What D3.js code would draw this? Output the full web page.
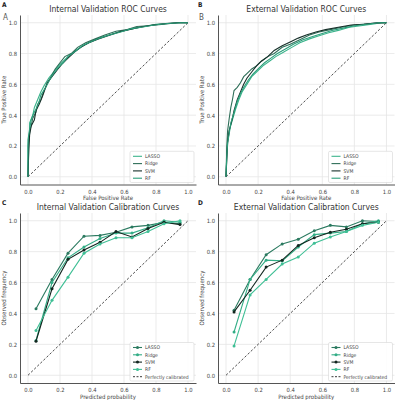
<!DOCTYPE html>
<html>
<head>
<meta charset="utf-8">
<script src="https://cdn.jsdelivr.net/npm/d3@7"></script>
<style>
  body { margin:0; background:#fff; }
  text { font-family: 'DejaVu Sans Condensed', 'Liberation Sans', sans-serif; }
</style>
</head>
<body>
<svg id="drawing_region" width="396" height="400"></svg>
<script>
// モデル名
var models = ['LASSO', 'Ridge', 'SVM', 'RF'];
var ticks = [0, 0.2, 0.4, 0.6, 0.8, 1.0];

// 内部検証 ROC (FPR / TPR)
var intFpr = {
  LASSO: [0,0,0.01,0.01,0.03,0.04,0.06,0.08,0.10,0.13,0.16,0.19,0.22,0.26,0.30,0.35,0.40,0.46,0.52,0.58,0.65,0.72,0.80,0.88,0.95,1],
  Ridge: [0,0.005,0.01,0.02,0.03,0.05,0.06,0.08,0.10,0.12,0.15,0.17,0.20,0.23,0.27,0.31,0.36,0.42,0.48,0.55,0.62,0.68,0.75,0.85,0.93,1],
  SVM:   [0,0.005,0.01,0.02,0.04,0.05,0.07,0.09,0.10,0.12,0.15,0.18,0.21,0.25,0.29,0.33,0.38,0.44,0.50,0.57,0.63,0.70,0.78,0.86,0.94,1],
  RF:    [0,0,0.01,0.02,0.03,0.05,0.07,0.08,0.11,0.13,0.16,0.19,0.22,0.25,0.29,0.34,0.39,0.45,0.51,0.58,0.64,0.71,0.79,0.87,0.95,1]
};
var intTpr = {
  LASSO: [0,0.20,0.29,0.35,0.40,0.45,0.50,0.55,0.59,0.64,0.68,0.72,0.75,0.79,0.82,0.855,0.88,0.905,0.925,0.945,0.96,0.975,0.99,0.995,1,1],
  Ridge: [0,0.22,0.30,0.33,0.38,0.42,0.47,0.50,0.56,0.60,0.66,0.70,0.74,0.78,0.80,0.84,0.87,0.895,0.92,0.945,0.955,0.975,0.98,0.99,1,1],
  SVM:   [0,0.18,0.27,0.33,0.37,0.43,0.47,0.52,0.55,0.61,0.65,0.69,0.73,0.77,0.81,0.84,0.87,0.895,0.915,0.94,0.955,0.97,0.985,0.995,1,1],
  RF:    [0,0.24,0.31,0.37,0.40,0.44,0.49,0.53,0.58,0.62,0.67,0.71,0.74,0.78,0.81,0.85,0.875,0.90,0.92,0.94,0.96,0.97,0.985,0.995,1,1]
};

// 外部検証 ROC
var extFpr = {
  LASSO: [0,0.005,0.01,0.02,0.04,0.06,0.08,0.10,0.13,0.16,0.19,0.23,0.27,0.31,0.36,0.41,0.46,0.52,0.58,0.64,0.70,0.77,0.84,0.91,0.97,1],
  Ridge: [0,0.005,0.01,0.02,0.03,0.04,0.05,0.07,0.09,0.11,0.13,0.16,0.19,0.22,0.26,0.30,0.35,0.40,0.46,0.52,0.58,0.65,0.72,0.80,0.90,1],
  SVM:   [0,0.005,0.01,0.02,0.04,0.05,0.07,0.09,0.11,0.13,0.16,0.19,0.22,0.26,0.30,0.35,0.40,0.45,0.50,0.56,0.62,0.70,0.78,0.86,0.94,1],
  RF:    [0,0.005,0.01,0.02,0.03,0.05,0.07,0.09,0.11,0.14,0.17,0.20,0.24,0.28,0.32,0.37,0.42,0.48,0.54,0.60,0.66,0.73,0.80,0.88,0.95,1]
};
var extTpr = {
  LASSO: [0,0.15,0.24,0.30,0.37,0.44,0.50,0.55,0.60,0.65,0.68,0.72,0.75,0.78,0.81,0.84,0.87,0.895,0.915,0.935,0.95,0.97,0.98,0.99,1,1],
  Ridge: [0,0.20,0.30,0.38,0.45,0.50,0.56,0.58,0.61,0.65,0.67,0.70,0.72,0.75,0.78,0.80,0.84,0.86,0.89,0.92,0.94,0.955,0.97,0.985,0.995,1],
  SVM:   [0,0.12,0.22,0.30,0.38,0.43,0.50,0.55,0.60,0.64,0.68,0.72,0.75,0.78,0.82,0.85,0.875,0.90,0.92,0.94,0.955,0.97,0.985,0.99,1,1],
  RF:    [0,0.14,0.22,0.28,0.35,0.42,0.49,0.54,0.58,0.63,0.67,0.70,0.74,0.77,0.80,0.83,0.86,0.89,0.91,0.93,0.95,0.965,0.98,0.99,1,1]
};

// キャリブレーション (予測確率のビン中心と観測頻度)
var bins = [0.05,0.15,0.25,0.35,0.45,0.55,0.65,0.75,0.85,0.95];
var intCal = {
  LASSO: [0.43,0.62,0.79,0.90,0.905,0.925,0.96,0.97,0.99,0.98],
  Ridge: [0.225,0.60,0.76,0.83,0.885,0.92,0.92,0.955,1.0,0.99],
  SVM:   [0.22,0.56,0.75,0.81,0.86,0.93,0.895,0.95,0.99,0.975],
  RF:    [0.29,0.485,0.635,0.79,0.85,0.89,0.89,0.93,0.98,1.0]
};
var extCal = {
  LASSO: [0.42,0.62,0.78,0.85,0.88,0.935,0.97,0.96,1.0,0.995],
  Ridge: [0.28,0.62,0.745,0.74,0.83,0.91,0.92,0.93,0.98,1.0],
  SVM:   [0.41,0.55,0.70,0.745,0.84,0.89,0.925,0.945,0.98,0.99],
  RF:    [0.19,0.52,0.62,0.72,0.765,0.855,0.895,0.93,0.97,0.99]
};

var rocColors = {LASSO:'#3cb48c', Ridge:'#2e6e58', SVM:'#17302a', RF:'#2a9e7a'};
var calColors = {LASSO:'#2b7a60', Ridge:'#33ad86', SVM:'#12261f', RF:'#3fbf95'};

var svg = d3.select('#drawing_region');

function panel(opt){
  var x = d3.scaleLinear().domain([-0.05, 1.05]).range([opt.left, opt.right]);
  var y = d3.scaleLinear().domain([-0.05, 1.05]).range([opt.bottom, opt.top]);
  var g = svg.append('g');

  // グリッド
  g.selectAll('.gx').data(ticks).enter().append('line')
    .attr('x1', d => x(d)).attr('x2', d => x(d))
    .attr('y1', opt.top).attr('y2', opt.bottom)
    .attr('stroke', '#e6e6e6').attr('stroke-width', 0.8);
  g.selectAll('.gy').data(ticks).enter().append('line')
    .attr('y1', d => y(d)).attr('y2', d => y(d))
    .attr('x1', opt.left).attr('x2', opt.right)
    .attr('stroke', '#e6e6e6').attr('stroke-width', 0.8);

  var xaxis = g.append('g').attr('transform', `translate(0,${opt.bottom})`)
    .call(d3.axisBottom(x).tickValues(ticks).tickFormat(d3.format('.1f')).tickSize(0).tickPadding(5));
  var yaxis = g.append('g').attr('transform', `translate(${opt.left},0)`)
    .call(d3.axisLeft(y).tickValues(ticks).tickFormat(d3.format('.1f')).tickSize(0).tickPadding(3));
  [xaxis, yaxis].forEach(a => {
    a.select('.domain').attr('stroke', '#555').attr('stroke-width', 1);
    a.selectAll('text').attr('font-size', 5.8).attr('fill', '#444')
      .attr('font-family', "'DejaVu Sans Condensed', 'Liberation Sans', sans-serif");
  });

  // 対角線
  g.append('line')
    .attr('x1', x(0)).attr('y1', y(0)).attr('x2', x(1)).attr('y2', y(1))
    .attr('stroke', '#222').attr('stroke-width', 0.8).attr('stroke-dasharray', '2.5,1.8');

  var line = d3.line().x(d => x(d[0])).y(d => y(d[1]));
  models.forEach(m => {
    var pts = opt.xs[m].map((v, i) => [v, opt.ys[m][i]]);
    g.append('path').datum(pts).attr('d', line)
      .attr('fill', 'none').attr('stroke', opt.colors[m]).attr('stroke-width', 1.1);
    if (opt.markers) {
      g.selectAll(null).data(pts).enter().append('circle')
        .attr('cx', d => x(d[0])).attr('cy', d => y(d[1])).attr('r', 1.5)
        .attr('fill', opt.colors[m]);
    }
  });

  var cx = (opt.left + opt.right) / 2;
  g.append('text').attr('x', cx).attr('y', opt.top - 3).attr('text-anchor', 'middle')
    .attr('font-size', 8.5).attr('fill', '#333').text(opt.title);
  g.append('text').attr('x', cx).attr('y', opt.bottom + 15.5).attr('text-anchor', 'middle')
    .attr('font-size', 6).attr('fill', '#444').text(opt.xlabel);
  g.append('text').attr('transform', `translate(${opt.left - 14},${(opt.top + opt.bottom) / 2}) rotate(-90)`)
    .attr('text-anchor', 'middle').attr('font-size', 6).attr('fill', '#444').text(opt.ylabel);

  // 凡例
  var items = models.slice();
  if (opt.markers) items.push('Perfectly calibrated');
  var lx = opt.right - 66, lh = items.length * 7.3 + 2;
  var ly = opt.bottom - 2 - lh;
  g.append('rect').attr('x', lx).attr('y', ly).attr('width', 64).attr('height', lh)
    .attr('rx', 1.5).attr('fill', '#fff').attr('fill-opacity', 0.9)
    .attr('stroke', '#d5d5d5').attr('stroke-width', 0.6);
  items.forEach((name, i) => {
    var yy = ly + 5 + i * 7.3;
    var isRef = name === 'Perfectly calibrated';
    var c = isRef ? '#222' : opt.colors[name];
    g.append('line').attr('x1', lx + 3).attr('x2', lx + 12).attr('y1', yy).attr('y2', yy)
      .attr('stroke', c).attr('stroke-width', isRef ? 0.9 : 1.1)
      .attr('stroke-dasharray', isRef ? '2,1.5' : null);
    if (opt.markers && !isRef) {
      g.append('circle').attr('cx', lx + 7.5).attr('cy', yy).attr('r', 1.5).attr('fill', c);
    }
    g.append('text').attr('x', lx + 15).attr('y', yy + 1.8).attr('font-size', 5)
      .attr('fill', '#444').text(name);
  });

  svg.append('text').attr('x', opt.tagX).attr('y', opt.top - 8).attr('font-size', 6.5)
    .attr('font-weight', 'bold').attr('fill', '#222').text(opt.tag);
  if (opt.serif) {
    svg.append('text').attr('x', opt.tagX + 1).attr('y', opt.top + 4.5)
      .attr('font-family', "'DejaVu Serif', 'Liberation Serif', serif").attr('font-size', 8)
      .attr('fill', '#555').text(opt.tag);
  }
}

panel({left:20, right:196, top:15, bottom:184.5, xs:intFpr, ys:intTpr, colors:rocColors,
  title:'Internal Validation ROC Curves', xlabel:'False Positive Rate', ylabel:'True Positive Rate',
  tag:'A', tagX:2, serif:true});
panel({left:218, right:394.5, top:15, bottom:184.5, xs:extFpr, ys:extTpr, colors:rocColors,
  title:'External Validation ROC Curves', xlabel:'False Positive Rate', ylabel:'True Positive Rate',
  tag:'B', tagX:198, serif:true});

var binX = {LASSO:bins, Ridge:bins, SVM:bins, RF:bins};
panel({left:20, right:196, top:213, bottom:383, xs:binX, ys:intCal, colors:calColors, markers:true,
  title:'Internal Validation Calibration Curves', xlabel:'Predicted probability', ylabel:'Observed frequency',
  tag:'C', tagX:2});
panel({left:218, right:394.5, top:213, bottom:383, xs:binX, ys:extCal, colors:calColors, markers:true,
  title:'External Validation Calibration Curves', xlabel:'Predicted probability', ylabel:'Observed frequency',
  tag:'D', tagX:198});
</script>
</body>
</html>
